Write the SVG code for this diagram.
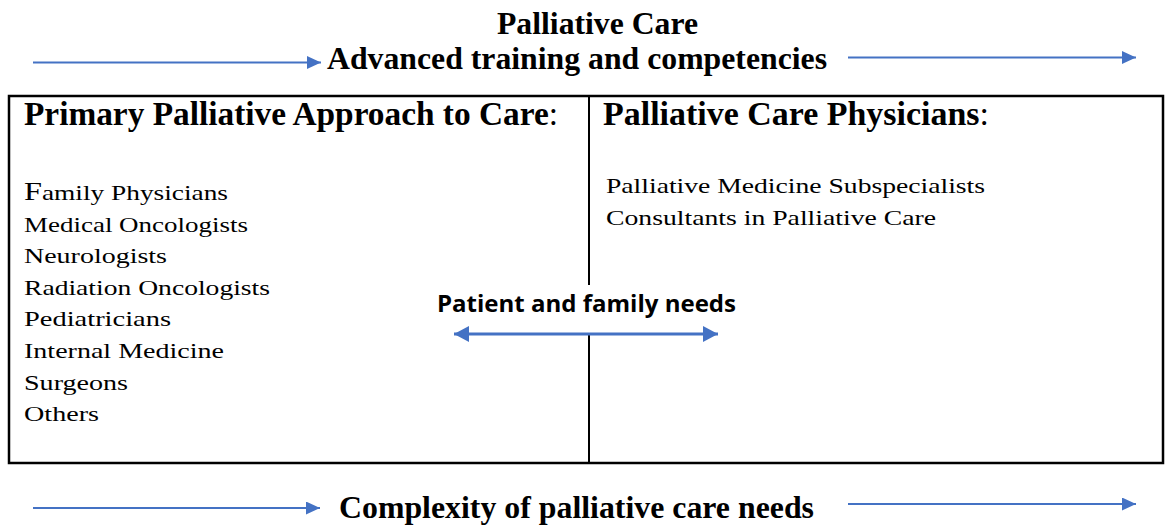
<svg xmlns="http://www.w3.org/2000/svg" width="1172" height="527" viewBox="0 0 1172 527">
  <defs>
    <!-- arrowhead for the thin progression arrows -->
    <marker id="head" viewBox="0 0 14 13" refX="14" refY="6.5" markerWidth="14" markerHeight="13" markerUnits="userSpaceOnUse" orient="auto-start-reverse">
      <path d="M0,0 L14,6.5 L0,13 z" fill="#4472C4"/>
    </marker>
    <!-- arrowhead for the double-headed needs arrow -->
    <marker id="head2" viewBox="0 0 15 16" refX="15" refY="8" markerWidth="15" markerHeight="16" markerUnits="userSpaceOnUse" orient="auto-start-reverse">
      <path d="M0,0 L15,8 L0,16 z" fill="#4472C4"/>
    </marker>
  </defs>
  <style>
    .title { font-family: "Liberation Serif", "Times New Roman", serif; font-weight: bold; font-size: 31px; fill: #000; }
    .head { font-family: "Liberation Serif", serif; font-weight: bold; font-size: 33px; fill: #000; }
    .item { font-family: "Liberation Serif", serif; font-size: 22px; fill: #000; }
    .needs { font-family: "Open Sans", "Liberation Sans", sans-serif; font-weight: bold; font-size: 24px; fill: #000; }
    .axis { stroke: #4472C4; stroke-width: 2; fill: none; marker-end: url(#head); }
    .frame { fill: none; stroke: #000; stroke-width: 2.5; }
    .divider { stroke: #000; stroke-width: 2; }
  </style>
  <rect width="1172" height="527" fill="#fff"/>

  <g id="title">
    <text class="title" x="497" y="34" textLength="201" lengthAdjust="spacingAndGlyphs">Palliative Care</text>
    <text class="title" x="327" y="69" textLength="500" lengthAdjust="spacingAndGlyphs">Advanced training and competencies</text>
  </g>

  <g id="frame">
    <rect class="frame" x="9" y="96" width="1154" height="367"/>
    <line class="divider" x1="589" y1="96" x2="589" y2="285"/>
    <line class="divider" x1="589" y1="333" x2="589" y2="463"/>
  </g>

  <g id="primary">
    <text class="head" x="24" y="125" textLength="534" lengthAdjust="spacingAndGlyphs">Primary Palliative Approach to Care<tspan font-weight="normal">:</tspan></text>
    <text class="item" x="24" y="200" textLength="204" lengthAdjust="spacingAndGlyphs"><tspan font-size="26px">F</tspan>amily Physicians</text>
    <text class="item" x="24" y="231.6" textLength="224" lengthAdjust="spacingAndGlyphs">Medical Oncologists</text>
    <text class="item" x="24" y="263.2" textLength="143" lengthAdjust="spacingAndGlyphs">Neurologists</text>
    <text class="item" x="24" y="294.8" textLength="246" lengthAdjust="spacingAndGlyphs">Radiation Oncologists</text>
    <text class="item" x="24" y="326.4" textLength="147" lengthAdjust="spacingAndGlyphs">Pediatricians</text>
    <text class="item" x="24" y="358" textLength="200" lengthAdjust="spacingAndGlyphs">Internal Medicine</text>
    <text class="item" x="24" y="389.6" textLength="104" lengthAdjust="spacingAndGlyphs">Surgeons</text>
    <text class="item" x="24" y="421.2" textLength="75" lengthAdjust="spacingAndGlyphs">Others</text>
  </g>

  <g id="specialist">
    <text class="head" x="603" y="125" textLength="386" lengthAdjust="spacingAndGlyphs">Palliative Care Physicians<tspan font-weight="normal">:</tspan></text>
    <text class="item" x="606" y="193" textLength="379" lengthAdjust="spacingAndGlyphs">Palliative Medicine Subspecialists</text>
    <text class="item" x="606" y="224.6" textLength="330" lengthAdjust="spacingAndGlyphs">Consultants in Palliative Care</text>
  </g>

  <g id="needs">
    <text class="needs" x="437" y="312" textLength="299" lengthAdjust="spacingAndGlyphs">Patient and family needs</text>
  </g>

  <g id="complexity">
    <text class="title" x="339" y="518" textLength="475" lengthAdjust="spacingAndGlyphs">Complexity of palliative care needs</text>
  </g>

  <g id="connectors">
    <line class="axis" x1="33" y1="62.5" x2="321" y2="62.5"/>
    <line class="axis" x1="848" y1="57.5" x2="1136" y2="57.5"/>
    <line class="axis" x1="33" y1="508" x2="320" y2="508"/>
    <line class="axis" x1="848" y1="504" x2="1136" y2="504"/>
    <line x1="454" y1="334" x2="718" y2="334" stroke="#4472C4" stroke-width="3" marker-start="url(#head2)" marker-end="url(#head2)"/>
  </g>
</svg>
